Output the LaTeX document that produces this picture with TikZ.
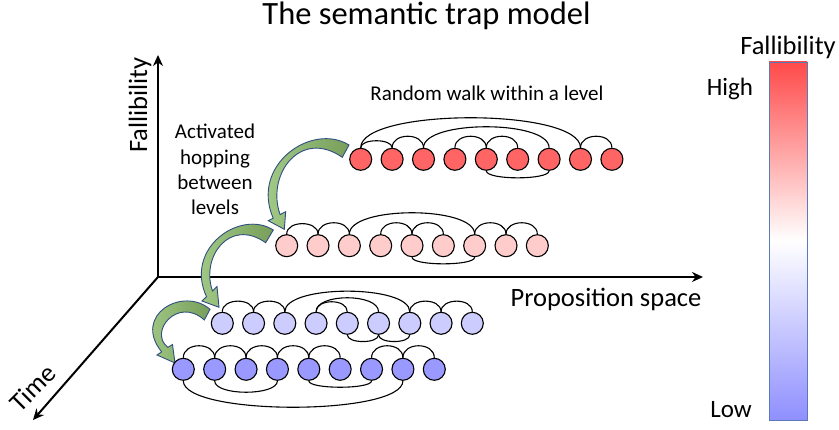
\documentclass[tikz,border=0pt]{standalone}
\usepackage{fontspec}
\setmainfont{Carlito}
\usetikzlibrary{arrows.meta,shadings}
\definecolor{redc}{HTML}{FF6565}
\definecolor{pinkc}{HTML}{FFCCCC}
\definecolor{lavc}{HTML}{CCCCFF}
\definecolor{bluec}{HTML}{9999FF}
\definecolor{gdark}{HTML}{789E5A}
\definecolor{glight}{HTML}{A9D18E}
\definecolor{gline}{HTML}{2F4F80}
\definecolor{cbtop}{HTML}{FF4A4A}
\definecolor{cbbot}{HTML}{8F8FFF}
\definecolor{cbline}{HTML}{5A7AB8}
\newcommand\arcU[3]{\draw[link] (#1.north) .. controls +(0,-#3*1.333) and +(0,-#3*1.333) .. (#2.north);}
\newcommand\arcD[3]{\draw[link] (#1.south) .. controls +(0,#3*1.333) and +(0,#3*1.333) .. (#2.south);}
\begin{document}
\begin{tikzpicture}[x=1pt,y=-1pt,
  dot/.style={circle,draw=black,line width=1.1pt,minimum size=22pt,inner sep=0pt},
  link/.style={draw=black,line width=1.1pt},
  axis/.style={line width=2pt,-{Stealth[length=11pt,width=10pt]}},
  hop/.style={draw=gline,line width=0.9pt,left color=glight,right color=gdark},
  lbl/.style={inner sep=0pt,anchor=base}]
\useasboundingbox (0,0) rectangle (839,430);

% title
\node[lbl,font=\fontsize{32.5}{38}\selectfont] (title) at (426.5,25) {The semantic trap model};

% axes
\coordinate (O) at (158,277);
\coordinate (fy) at (158,55);
\coordinate (px) at (703,277);
\coordinate (tz) at (33,420);
\draw[axis] (O) -- (fy);
\draw[axis] (O) -- (px);
\draw[axis] (O) -- (tz);
\node[lbl,rotate=90,font=\fontsize{26.5}{30}\selectfont] (lfall) at (147,105) {Fallibility};
\node[lbl,font=\fontsize{26.5}{30}\selectfont] (lprop) at (606,307) {Proposition space};
\node[rotate=45,inner sep=0pt,font=\fontsize{26.5}{30}\selectfont] (ltime) at (33,388) {Time};

% labels
\node[lbl,font=\fontsize{21}{25}\selectfont] (lrw) at (487,101) {Random walk within a level};
\node[lbl,font=\fontsize{21}{25}\selectfont] (la1) at (215,139) {Activated};
\node[lbl,font=\fontsize{21}{25}\selectfont] (la2) at (215,164.3) {hopping};
\node[lbl,font=\fontsize{21}{25}\selectfont] (la3) at (215,189.6) {between};
\node[lbl,font=\fontsize{21}{25}\selectfont] (la4) at (215,214.9) {levels};

% green hopping arrows
\path[hop] (349,145) .. controls (312,122) and (250,165) .. (273.2,218.2) -- (268.3,220.7) -- (284.3,229.3) -- (285.7,211.7) -- (280.1,214.6) .. controls (266,175) and (300,128) .. (342.3,157.3) -- cycle;
\path[hop] (273.3,230) .. controls (240.3,209) and (184,248) .. (206.5,296.7) -- (202,301) -- (219,307.3) -- (217,286.5) -- (212.5,290.9) .. controls (200.5,257.2) and (229.5,217.3) .. (265.7,242.7) -- cycle;
\path[hop] (210,309.3) .. controls (183,286) and (132,315) .. (161.65,351.85) -- (157,355) -- (175,363) -- (172.5,344.5) -- (167.85,347.35) .. controls (148,332) and (178,296) .. (204.3,320) -- cycle;

% circles
\foreach \k in {1,...,9} {
  \node[dot,fill=redc]  (a\k) at ({360.7+31.4*(\k-1)},159.3) {};
  \node[dot,fill=pinkc] (b\k) at ({286.7+31.33*(\k-1)},245.7) {};
  \node[dot,fill=lavc]  (c\k) at ({222.3+31.25*(\k-1)},323.3) {};
  \node[dot,fill=bluec] (d\k) at ({183.3+31.375*(\k-1)},369.3) {};
}

% row 1 links
\arcU{a1}{a2}{7}\arcU{a2}{a3}{11.5}\arcU{a1}{a8}{30}\arcU{a3}{a7}{21}
\arcU{a4}{a5}{11.5}\arcU{a5}{a6}{11.5}\arcU{a8}{a9}{11.5}\arcD{a5}{a7}{7}
% row 2 links
\arcU{b1}{b2}{10.5}\arcU{b2}{b3}{11.4}\arcU{b3}{b7}{21.4}\arcU{b4}{b5}{11.4}
\arcU{b5}{b6}{11.4}\arcU{b7}{b8}{11.4}\arcU{b8}{b9}{11.4}\arcD{b5}{b7}{6.6}
% row 3 links
\arcU{c1}{c2}{10.6}\arcU{c2}{c3}{10.6}\arcU{c3}{c7}{20.6}\arcU{c4}{c5}{10}
\arcU{c4}{c6}{14}\arcU{c7}{c8}{10.6}\arcU{c8}{c9}{10.6}\arcD{c5}{c6}{6.7}\arcD{c6}{c7}{6.7}
% row 4 links
\arcU{d1}{d2}{12}\arcU{d2}{d3}{12}\arcU{d3}{d4}{12}\arcU{d4}{d5}{12}\arcU{d5}{d6}{12}
\arcU{d7}{d8}{12}\arcU{d8}{d9}{12}\arcD{d2}{d4}{11.4}\arcD{d5}{d7}{6.4}\arcD{d1}{d8}{26.4}

% colour bar
\path[draw=cbline,line width=0.8pt,top color=cbtop,bottom color=cbbot,middle color=white] (769,62) rectangle (807,420);
\node[lbl,font=\fontsize{26.5}{30}\selectfont] (cbt) at (788,55) {Fallibility};
\node[lbl,font=\fontsize{25}{30}\selectfont] (cbh) at (730,96) {High};
\node[lbl,font=\fontsize{25}{30}\selectfont] (cbl) at (731,418) {Low};
\end{tikzpicture}
\end{document}
